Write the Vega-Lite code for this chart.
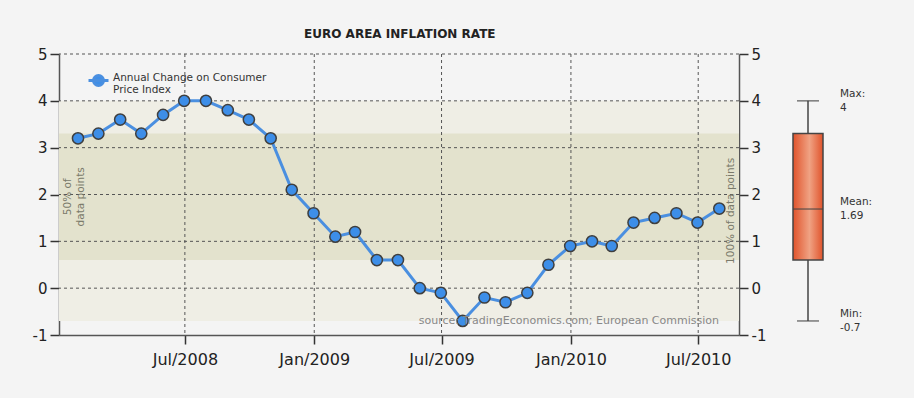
{
  "$schema": "https://vega.github.io/schema/vega-lite/v6.json",
  "background": "#f4f4f4",
  "padding": {"left": 32, "top": 28, "right": 44, "bottom": 32},
  "config": {"view": {"stroke": null}, "font": "DejaVu Sans", "axis": {"grid": false}},
  "title": {"text": "EURO AREA INFLATION RATE", "font": "DejaVu Sans", "fontSize": 12, "fontWeight": "bold", "color": "#222", "anchor": "start", "dx": 272, "offset": 6},
  "datasets": {
    "cpi": [
      {"date": "2008-01-31", "value": 3.2},
      {"date": "2008-02-29", "value": 3.3},
      {"date": "2008-03-31", "value": 3.6},
      {"date": "2008-04-30", "value": 3.3},
      {"date": "2008-05-31", "value": 3.7},
      {"date": "2008-06-30", "value": 4.0},
      {"date": "2008-07-31", "value": 4.0},
      {"date": "2008-08-31", "value": 3.8},
      {"date": "2008-09-30", "value": 3.6},
      {"date": "2008-10-31", "value": 3.2},
      {"date": "2008-11-30", "value": 2.1},
      {"date": "2008-12-31", "value": 1.6},
      {"date": "2009-01-31", "value": 1.1},
      {"date": "2009-02-28", "value": 1.2},
      {"date": "2009-03-31", "value": 0.6},
      {"date": "2009-04-30", "value": 0.6},
      {"date": "2009-05-31", "value": 0.0},
      {"date": "2009-06-30", "value": -0.1},
      {"date": "2009-07-31", "value": -0.7},
      {"date": "2009-08-31", "value": -0.2},
      {"date": "2009-09-30", "value": -0.3},
      {"date": "2009-10-31", "value": -0.1},
      {"date": "2009-11-30", "value": 0.5},
      {"date": "2009-12-31", "value": 0.9},
      {"date": "2010-01-31", "value": 1.0},
      {"date": "2010-02-28", "value": 0.9},
      {"date": "2010-03-31", "value": 1.4},
      {"date": "2010-04-30", "value": 1.5},
      {"date": "2010-05-31", "value": 1.6},
      {"date": "2010-06-30", "value": 1.4},
      {"date": "2010-07-31", "value": 1.7}
    ],
    "box": [{"series": "CPI", "min": -0.7, "q1": 0.6, "mean": 1.69, "q3": 3.3, "max": 4}],
    "stats": [
      {"series": "CPI", "stat": "Max:", "value": 4, "label": "4"},
      {"series": "CPI", "stat": "Mean:", "value": 1.69, "label": "1.69"},
      {"series": "CPI", "stat": "Min:", "value": -0.7, "label": "-0.7"}
    ],
    "ygrid": [{"v": 0}, {"v": 1}, {"v": 2}, {"v": 3}, {"v": 4}, {"v": 5}],
    "xgrid": [{"d": "2008-07-01"}, {"d": "2009-01-01"}, {"d": "2009-07-01"}, {"d": "2010-01-01"}, {"d": "2010-07-01"}]
  },
  "spacing": 12,
  "hconcat": [
    {
      "width": 680,
      "height": 281,
      "resolve": {"axis": {"y": "independent"}},
      "layer": [
        {
          "data": {"name": "box"},
          "mark": {"type": "rect", "fill": "#efeee5"},
          "encoding": {
            "y": {"field": "min", "type": "quantitative", "scale": {"domain": [-1, 5], "nice": false},
              "axis": {"orient": "left", "values": [-1, 0, 1, 2, 3, 4, 5], "labelExpr": "'' + datum.value", "title": null, "domainColor": "#555", "domainWidth": 1.5, "tickColor": "#333", "tickWidth": 1.5, "tickSize": 9, "labelFontSize": 15, "labelColor": "#222", "labelPadding": 3}},
            "y2": {"field": "max"}
          }
        },
        {
          "data": {"name": "box"},
          "mark": {"type": "rect", "fill": "#e3e2cd"},
          "encoding": {
            "y": {"field": "q1", "type": "quantitative", "axis": null},
            "y2": {"field": "q3"}
          }
        },
        {
          "data": {"name": "ygrid"},
          "mark": {"type": "rule", "color": "#555", "strokeDash": [3, 3], "strokeWidth": 1},
          "encoding": {"y": {"field": "v", "type": "quantitative", "axis": null}}
        },
        {
          "data": {"name": "xgrid"},
          "mark": {"type": "rule", "color": "#555", "strokeDash": [3, 3], "strokeWidth": 1},
          "encoding": {
            "x": {"field": "d", "type": "temporal",
              "scale": {"type": "utc", "domain": [{"year": 2008, "month": 1, "date": 4, "utc": true}, {"year": 2010, "month": 8, "date": 28, "utc": true}]},
              "axis": {"values": [{"year": 2008, "month": 7, "date": 1, "utc": true}, {"year": 2009, "month": 1, "date": 1, "utc": true}, {"year": 2009, "month": 7, "date": 1, "utc": true}, {"year": 2010, "month": 1, "date": 1, "utc": true}, {"year": 2010, "month": 7, "date": 1, "utc": true}], "format": "%b/%Y", "title": null, "domainColor": "#555", "domainWidth": 1.5, "tickColor": "#333", "tickWidth": 1.5, "tickSize": 9, "labelFontSize": 16, "labelColor": "#222", "labelPadding": 7}}
          }
        },
        {
          "data": {"name": "cpi"},
          "mark": {"type": "line", "strokeWidth": 3},
          "encoding": {
            "x": {"field": "date", "type": "temporal"},
            "y": {"field": "value", "type": "quantitative", "axis": null},
            "color": {"datum": "Annual Change on Consumer Price Index", "type": "nominal", "scale": {"range": ["#4a8fe0"]},
              "legend": {"orient": "top-left", "title": null, "offset": 20, "padding": 0, "labelExpr": "['Annual Change on Consumer', 'Price Index']", "labelFontSize": 10.5, "labelColor": "#333", "labelBaseline": "alphabetic", "symbolOffset": 13, "labelOffset": 8, "symbolType": "M-2,0 L2,0 M-1,0 A1,1 0 1,0 1,0 A1,1 0 1,0 -1,0 Z", "symbolSize": 100, "symbolStrokeWidth": 3, "symbolStrokeColor": "#4a8fe0", "symbolFillColor": "#3d8ee8"}}
          }
        },
        {
          "data": {"name": "cpi"},
          "mark": {"type": "point", "filled": true, "size": 125, "fill": "#3d8ee8", "stroke": "#3f3f3f", "strokeWidth": 1.5, "opacity": 1},
          "encoding": {
            "x": {"field": "date", "type": "temporal"},
            "y": {"field": "value", "type": "quantitative",
              "axis": {"orient": "right", "values": [-1, 0, 1, 2, 3, 4, 5], "labelExpr": "'' + datum.value", "title": null, "domainColor": "#555", "domainWidth": 1.5, "tickColor": "#333", "tickWidth": 1.5, "tickSize": 9, "labelFontSize": 15, "labelColor": "#222", "labelPadding": 3}}
          }
        },
        {
          "data": {"values": [{"note": ["50% of", "data points"], "at": "2008-01-04", "mid": 1.95}]},
          "mark": {"type": "text", "angle": 270, "align": "center", "baseline": "top", "dy": 4, "fontSize": 10.5, "color": "#7a7a6a"},
          "encoding": {
            "x": {"field": "at", "type": "temporal"},
            "y": {"field": "mid", "type": "quantitative", "axis": null},
            "text": {"field": "note"}
          }
        },
        {
          "data": {"values": [{"note": "100% of data points", "at": "2010-08-28", "mid": 1.65}]},
          "mark": {"type": "text", "angle": 270, "align": "center", "baseline": "bottom", "dy": -3, "fontSize": 10.5, "color": "#7a7a6a"},
          "encoding": {
            "x": {"field": "at", "type": "temporal"},
            "y": {"field": "mid", "type": "quantitative", "axis": null},
            "text": {"field": "note"}
          }
        },
        {
          "data": {"values": [{"note": "source: TradingEconomics.com; European Commission", "at": "2010-08-28", "mid": -0.7}]},
          "mark": {"type": "text", "align": "right", "baseline": "middle", "dx": -20, "fontSize": 11, "color": "#888"},
          "encoding": {
            "x": {"field": "at", "type": "temporal"},
            "y": {"field": "mid", "type": "quantitative", "axis": null},
            "text": {"field": "note"}
          }
        }
      ]
    },
    {
      "width": 60,
      "height": 281,
      "encoding": {"x": {"field": "series", "type": "nominal", "axis": null, "scale": {"padding": 0}}},
      "layer": [
        {
          "data": {"name": "box"},
          "mark": {"type": "rule", "color": "#444", "strokeWidth": 1.5},
          "encoding": {
            "y": {"field": "min", "type": "quantitative", "scale": {"domain": [-1, 5], "nice": false}, "axis": null},
            "y2": {"field": "max"}
          }
        },
        {
          "data": {"name": "box"},
          "mark": {"type": "bar", "width": 30, "stroke": "#444", "strokeWidth": 1.5,
            "fill": {"gradient": "linear", "x1": 0, "y1": 0, "x2": 1, "y2": 0, "stops": [{"offset": 0, "color": "#e0532b"}, {"offset": 0.55, "color": "#f0a283"}, {"offset": 1, "color": "#e0532b"}]}},
          "encoding": {
            "y": {"field": "q1", "type": "quantitative"},
            "y2": {"field": "q3"}
          }
        },
        {
          "data": {"name": "box"},
          "mark": {"type": "tick", "orient": "horizontal", "size": 22, "thickness": 1.5, "color": "#444"},
          "encoding": {"y": {"field": "min", "type": "quantitative"}}
        },
        {
          "data": {"name": "box"},
          "mark": {"type": "tick", "orient": "horizontal", "size": 22, "thickness": 1.5, "color": "#444"},
          "encoding": {"y": {"field": "max", "type": "quantitative"}}
        },
        {
          "data": {"name": "box"},
          "mark": {"type": "tick", "orient": "horizontal", "size": 30, "thickness": 1.5, "color": "#444"},
          "encoding": {"y": {"field": "mean", "type": "quantitative"}}
        },
        {
          "data": {"name": "stats"},
          "mark": {"type": "text", "align": "left", "baseline": "middle", "dx": 32, "dy": -7, "fontSize": 10.5, "color": "#333"},
          "encoding": {"y": {"field": "value", "type": "quantitative"}, "text": {"field": "stat"}}
        },
        {
          "data": {"name": "stats"},
          "mark": {"type": "text", "align": "left", "baseline": "middle", "dx": 32, "dy": 7, "fontSize": 10.5, "color": "#333"},
          "encoding": {"y": {"field": "value", "type": "quantitative"}, "text": {"field": "label"}}
        }
      ]
    }
  ]
}
